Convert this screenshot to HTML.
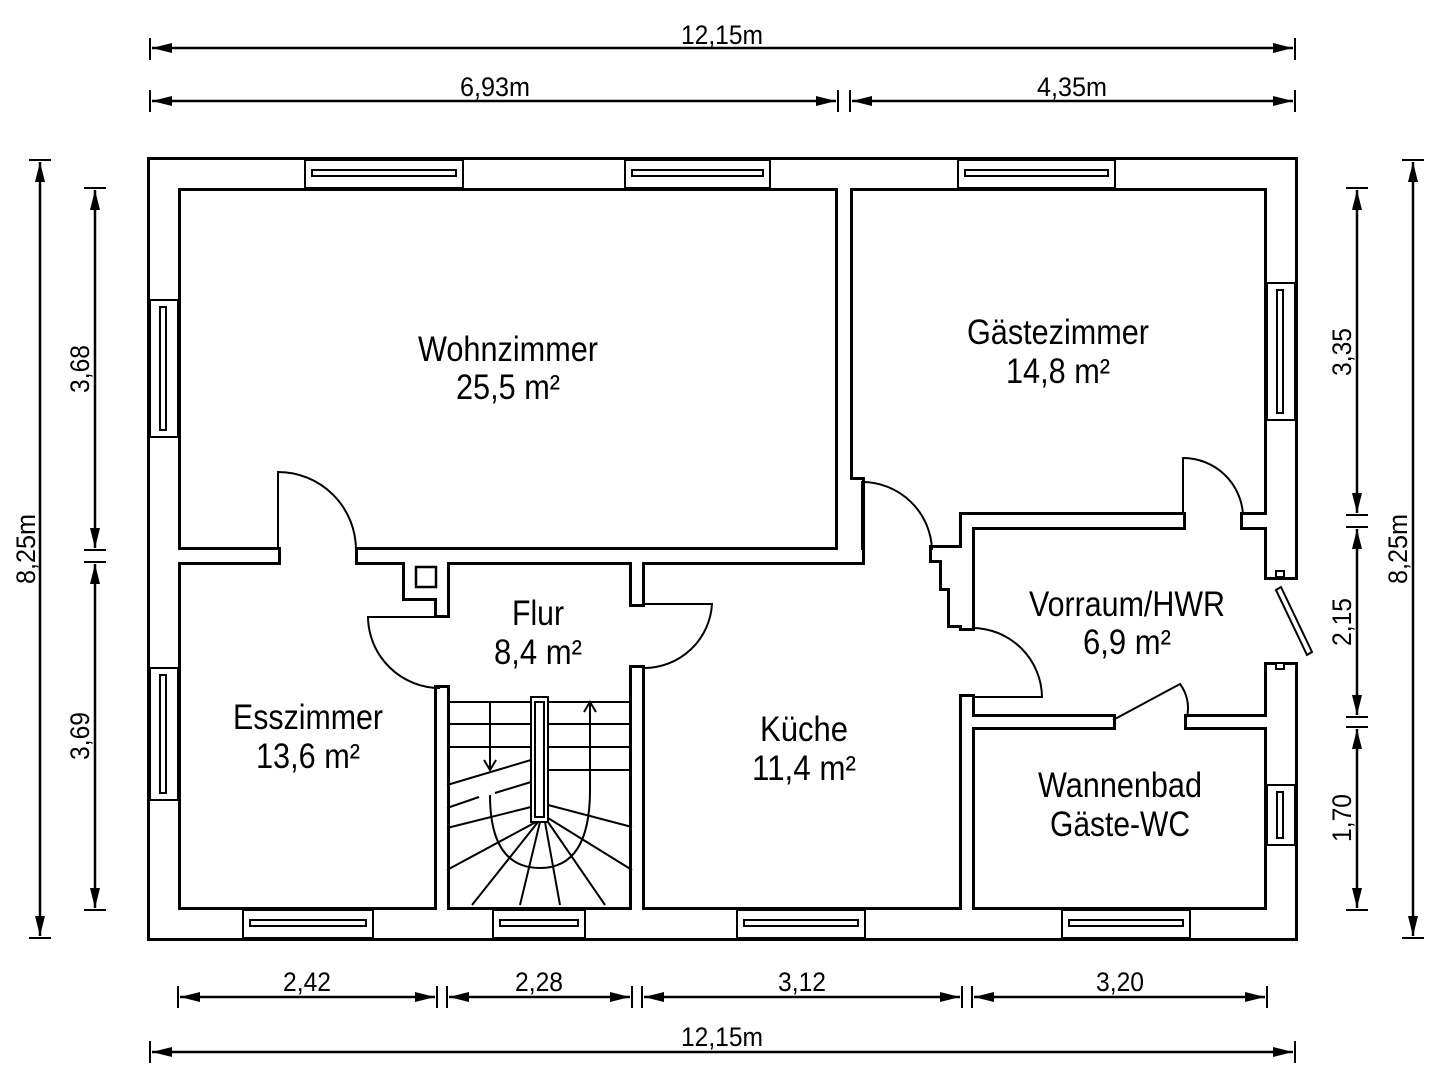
<!DOCTYPE html>
<html><head><meta charset="utf-8"><style>
html,body{margin:0;padding:0;background:#fff;}
svg{display:block;}
text{font-family:"Liberation Sans",sans-serif;fill:#000;}
</style></head><body>
<svg width="1433" height="1080" viewBox="0 0 1433 1080" xmlns="http://www.w3.org/2000/svg">
<defs>
<g id="walls">
<rect x="150" y="160" width="1145" height="28"/>
<rect x="150" y="160" width="28" height="778"/>
<rect x="150" y="910" width="1145" height="28"/>
<rect x="1267" y="160" width="28" height="417"/>
<rect x="1267" y="665" width="28" height="273"/>
<rect x="838" y="188" width="12" height="362"/>
<rect x="178" y="550" width="100" height="12"/>
<rect x="358" y="550" width="504" height="12"/>
<rect x="850" y="480" width="12" height="82"/>
<rect x="405" y="562" width="42" height="36"/>
<rect x="437" y="562" width="10" height="53"/>
<rect x="437" y="688" width="10" height="222"/>
<rect x="632" y="562" width="10" height="42"/>
<rect x="632" y="668" width="10" height="242"/>
<rect x="932" y="548" width="40" height="12"/>
<rect x="942" y="548" width="30" height="40"/>
<rect x="950" y="548" width="22" height="77"/>
<rect x="962" y="515" width="10" height="113"/>
<rect x="962" y="697" width="10" height="213"/>
<rect x="962" y="515" width="221" height="12"/>
<rect x="1243" y="515" width="24" height="12"/>
<rect x="972" y="717" width="141" height="10"/>
<rect x="1187" y="717" width="80" height="10"/>
</g>
<marker id="a" viewBox="0 0 20 10" refX="20" refY="5" markerWidth="22" markerHeight="10" markerUnits="userSpaceOnUse" orient="auto-start-reverse"><path d="M0,0 L20,5 L0,10 z"/></marker>
</defs>
<g fill="#000" stroke="#000" stroke-width="6"><use href="#walls"/></g>
<g fill="#fff"><use href="#walls"/></g>
<rect x="416" y="567" width="20" height="20" fill="#fff" stroke="#000" stroke-width="2.5"/>
<g fill="#fff" stroke="#000" stroke-width="2">
<rect x="305" y="160" width="158" height="28"/><rect x="312" y="170" width="144" height="6"/>
<rect x="625" y="160" width="145" height="28"/><rect x="632" y="170" width="131" height="6"/>
<rect x="958" y="160" width="157" height="28"/><rect x="965" y="170" width="143" height="6"/>
<rect x="243" y="910" width="130" height="28"/><rect x="250" y="920" width="116" height="6"/>
<rect x="493" y="910" width="92" height="28"/><rect x="500" y="920" width="78" height="6"/>
<rect x="737" y="910" width="128" height="28"/><rect x="744" y="920" width="114" height="6"/>
<rect x="1062" y="910" width="128" height="28"/><rect x="1069" y="920" width="114" height="6"/>
<rect x="150" y="300" width="28" height="137"/><rect x="160" y="307" width="6" height="123"/>
<rect x="150" y="668" width="28" height="132"/><rect x="160" y="675" width="6" height="118"/>
<rect x="1267" y="283" width="28" height="137"/><rect x="1277" y="290" width="6" height="123"/>
<rect x="1267" y="785" width="28" height="60"/><rect x="1277" y="792" width="6" height="46"/>
<rect x="1276" y="571" width="8" height="6"/><rect x="1276" y="663" width="8" height="6"/>
</g>
<polygon points="1276,590 1281,587 1312,652 1307,655" fill="#fff" stroke="#000" stroke-width="2"/>
<g fill="none" stroke="#000" stroke-width="2">
<path d="M278,550 L278,472 A78,78 0 0 1 356,550"/>
<path d="M862,550 L862,482 A70,70 0 0 1 932,550"/>
<path d="M1183,515 L1183,458 A60,60 0 0 1 1243,515"/>
<path d="M972,628 A70,70 0 0 1 1042,697 L972,697"/>
<path d="M447,617 L368,617 A72,72 0 0 0 440,688"/>
<path d="M642,604 L712,604 A68,68 0 0 1 644,668"/>
<path d="M1113,720 L1180,684 A40,40 0 0 1 1187,717"/>
</g>
<g fill="none" stroke="#000" stroke-width="2">
<rect x="531" y="697" width="17" height="125"/>
<rect x="535" y="702" width="9" height="115"/>
<path d="M447,702H531M447,724H531M447,747H531M548,702H632M548,724H632M548,747H632M548,770H632"/>
<path d="M490,702V768M484,760L490,770L496,760"/>
<path d="M590,795V703M584,712L590,702L596,712"/>
<path d="M447,785L531,760M447,808L479,797M495,793L531,782M447,828L531,807"/>
<path d="M490,795 Q490,868 540,868 Q590,868 590,790"/>
<path d="M536,822L447,870M538,822L472,905M540,822L520,905M545,822L560,905M548,822L605,905M548,818L632,870M548,805L632,827"/>
</g>
<g font-size="35" text-anchor="middle">
<text x="508" y="361" textLength="180" lengthAdjust="spacingAndGlyphs">Wohnzimmer</text>
<text x="508" y="399" textLength="104" lengthAdjust="spacingAndGlyphs">25,5 m²</text>
<text x="1058" y="344" textLength="182" lengthAdjust="spacingAndGlyphs">Gästezimmer</text>
<text x="1058" y="383" textLength="104" lengthAdjust="spacingAndGlyphs">14,8 m²</text>
<text x="538" y="625" textLength="52" lengthAdjust="spacingAndGlyphs">Flur</text>
<text x="538" y="664" textLength="88" lengthAdjust="spacingAndGlyphs">8,4 m²</text>
<text x="308" y="729" textLength="150" lengthAdjust="spacingAndGlyphs">Esszimmer</text>
<text x="308" y="768" textLength="104" lengthAdjust="spacingAndGlyphs">13,6 m²</text>
<text x="804" y="741" textLength="88" lengthAdjust="spacingAndGlyphs">Küche</text>
<text x="804" y="780" textLength="104" lengthAdjust="spacingAndGlyphs">11,4 m²</text>
<text x="1127" y="616" textLength="196" lengthAdjust="spacingAndGlyphs">Vorraum/HWR</text>
<text x="1127" y="654" textLength="88" lengthAdjust="spacingAndGlyphs">6,9 m²</text>
<text x="1120" y="797" textLength="164" lengthAdjust="spacingAndGlyphs">Wannenbad</text>
<text x="1120" y="836" textLength="140" lengthAdjust="spacingAndGlyphs">Gäste-WC</text>
</g>
<g stroke="#000" stroke-width="2.5" fill="#000">
<line x1="152" y1="48" x2="1293" y2="48" marker-start="url(#a)" marker-end="url(#a)"/>
<line x1="152" y1="101" x2="836" y2="101" marker-start="url(#a)" marker-end="url(#a)"/>
<line x1="852" y1="101" x2="1293" y2="101" marker-start="url(#a)" marker-end="url(#a)"/>
<line x1="180" y1="997" x2="435" y2="997" marker-start="url(#a)" marker-end="url(#a)"/>
<line x1="449" y1="997" x2="630" y2="997" marker-start="url(#a)" marker-end="url(#a)"/>
<line x1="644" y1="997" x2="960" y2="997" marker-start="url(#a)" marker-end="url(#a)"/>
<line x1="974" y1="997" x2="1265" y2="997" marker-start="url(#a)" marker-end="url(#a)"/>
<line x1="152" y1="1052" x2="1293" y2="1052" marker-start="url(#a)" marker-end="url(#a)"/>
<line x1="40" y1="162" x2="40" y2="936" marker-start="url(#a)" marker-end="url(#a)"/>
<line x1="95" y1="190" x2="95" y2="548" marker-start="url(#a)" marker-end="url(#a)"/>
<line x1="95" y1="564" x2="95" y2="908" marker-start="url(#a)" marker-end="url(#a)"/>
<line x1="1413" y1="162" x2="1413" y2="936" marker-start="url(#a)" marker-end="url(#a)"/>
<line x1="1357" y1="190" x2="1357" y2="513" marker-start="url(#a)" marker-end="url(#a)"/>
<line x1="1357" y1="529" x2="1357" y2="715" marker-start="url(#a)" marker-end="url(#a)"/>
<line x1="1357" y1="729" x2="1357" y2="908" marker-start="url(#a)" marker-end="url(#a)"/>
</g>
<g stroke="#000" stroke-width="2">
<path d="M150,38V60M1295,38V60M150,90V112M1295,90V112M838,90V112M850,90V112"/>
<path d="M178,986V1008M437,986V1008M447,986V1008M632,986V1008M642,986V1008M962,986V1008M972,986V1008M1267,986V1008M150,1041V1063M1295,1041V1063"/>
<path d="M29,160H51M29,938H51M1402,160H1424M1402,938H1424"/>
<path d="M84,188H106M84,550H106M84,562H106M84,910H106"/>
<path d="M1346,188H1368M1346,515H1368M1346,527H1368M1346,717H1368M1346,727H1368M1346,910H1368"/>
</g>
<g font-size="27" text-anchor="middle">
<text x="722" y="44" textLength="82" lengthAdjust="spacingAndGlyphs">12,15m</text>
<text x="495" y="96" textLength="70" lengthAdjust="spacingAndGlyphs">6,93m</text>
<text x="1072" y="96" textLength="70" lengthAdjust="spacingAndGlyphs">4,35m</text>
<text x="307" y="991" textLength="48" lengthAdjust="spacingAndGlyphs">2,42</text>
<text x="539" y="991" textLength="48" lengthAdjust="spacingAndGlyphs">2,28</text>
<text x="802" y="991" textLength="48" lengthAdjust="spacingAndGlyphs">3,12</text>
<text x="1120" y="991" textLength="48" lengthAdjust="spacingAndGlyphs">3,20</text>
<text x="722" y="1046" textLength="82" lengthAdjust="spacingAndGlyphs">12,15m</text>
<text transform="translate(35,549) rotate(-90)" textLength="70" lengthAdjust="spacingAndGlyphs">8,25m</text>
<text transform="translate(89,369) rotate(-90)" textLength="48" lengthAdjust="spacingAndGlyphs">3,68</text>
<text transform="translate(89,736) rotate(-90)" textLength="48" lengthAdjust="spacingAndGlyphs">3,69</text>
<text transform="translate(1407,549) rotate(-90)" textLength="70" lengthAdjust="spacingAndGlyphs">8,25m</text>
<text transform="translate(1351,352) rotate(-90)" textLength="48" lengthAdjust="spacingAndGlyphs">3,35</text>
<text transform="translate(1351,622) rotate(-90)" textLength="48" lengthAdjust="spacingAndGlyphs">2,15</text>
<text transform="translate(1351,818) rotate(-90)" textLength="48" lengthAdjust="spacingAndGlyphs">1,70</text>
</g>
</svg>
</body></html>
